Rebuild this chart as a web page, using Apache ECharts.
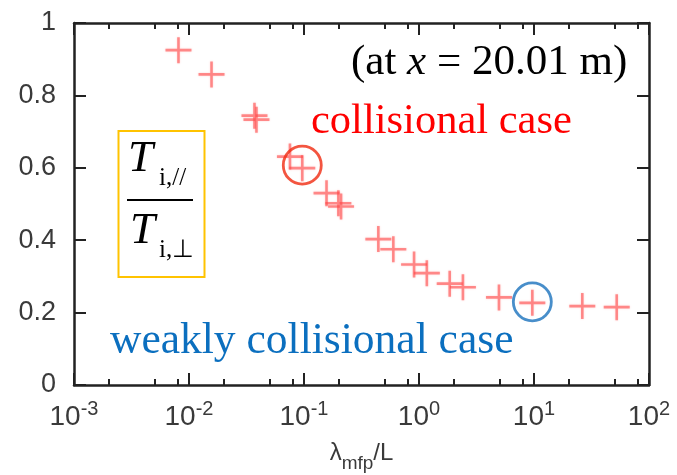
<!DOCTYPE html>
<html>
<head>
<meta charset="utf-8">
<script src="https://cdn.jsdelivr.net/npm/echarts@6/dist/echarts.min.js"></script>
<style>
  html, body { margin: 0; padding: 0; background: #fff; }
  #chart { width: 677px; height: 475px; }
</style>
</head>
<body>
<div id="chart"></div>
<script>
// Ion temperature anisotropy T_i,// / T_i,perp against normalised mean free path
const lambdaOverL = [0.0081, 0.0157, 0.0371, 0.0386, 0.0755, 0.0966, 0.157, 0.199, 0.21, 0.443, 0.598, 0.906, 1.17, 1.85, 2.41, 4.96, 9.67, 26.3, 52.4];
const tempRatio   = [0.925, 0.858, 0.744, 0.733, 0.631, 0.599, 0.530, 0.502, 0.493, 0.403, 0.375, 0.333, 0.309, 0.280, 0.270, 0.242, 0.227, 0.218, 0.215];

// highlighted runs
const collisionalIdx = 5;
const weakIdx = 16;

// axis ticks
const majorTicksX = [0.001, 0.01, 0.1, 1, 10, 100];
const minorTicksX = [0.002, 0.005, 0.008, 0.02, 0.05, 0.08, 0.2, 0.5, 0.8, 2, 5, 8, 20, 50, 80];
const yTicks = [0, 0.2, 0.4, 0.6, 0.8, 1];
const xExponents = { '0.001': '-3', '0.01': '-2', '0.1': '-1', '1': '0', '10': '1', '100': '2' };

const points = lambdaOverL.map((x, i) => [x, tempRatio[i]]);

const plusPath = 'path://M45,0h10v45h45v10h-45v45h-10v-45h-45v-10h45z';
const sans = 'Liberation Sans';
const serif = 'Liberation Serif';
const axisColor = '#222';
const labelColor = '#3a3a3a';

const chart = echarts.init(document.getElementById('chart'), null, { renderer: 'canvas' });

const baseX = {
  type: 'log', logBase: 10, min: 0.001, max: 100, gridIndex: 0,
  splitLine: { show: false }, minorTick: { show: false }
};

chart.setOption({
  animation: false,
  backgroundColor: '#fff',
  grid: { left: 74, right: 28, top: 23, bottom: 90, containLabel: false, outerBoundsMode: 'none' },
  xAxis: [
    Object.assign({}, baseX, {
      position: 'bottom',
      axisLine: { show: true, lineStyle: { color: axisColor, width: 2.5 } },
      axisTick: { show: true, inside: true, length: 12, lineStyle: { color: axisColor, width: 2 }, customValues: majorTicksX },
      axisLabel: {
        show: true, margin: 14, customValues: majorTicksX,
        formatter: v => '{b|10}{s|' + xExponents[String(+v.toPrecision(3))] + '}',
        rich: {
          b: { fontFamily: sans, fontSize: 28, color: labelColor },
          s: { fontFamily: sans, fontSize: 20, color: labelColor, padding: [0, 0, 16, 0] }
        }
      },
      name: '{l|λ}{m|mfp}{l|/L}',
      nameLocation: 'middle', nameGap: 49,
      nameTextStyle: {
        rich: {
          l: { fontFamily: sans, fontSize: 24, color: labelColor },
          m: { fontFamily: sans, fontSize: 19, color: labelColor, padding: [20, 0, 0, 0] }
        }
      }
    }),
    Object.assign({}, baseX, {
      position: 'bottom',
      axisLine: { show: false },
      axisTick: { show: true, inside: true, length: 6, lineStyle: { color: axisColor, width: 2 }, customValues: minorTicksX },
      axisLabel: { show: false }
    }),
    Object.assign({}, baseX, {
      position: 'top',
      axisLine: { show: true, lineStyle: { color: axisColor, width: 2.5 } },
      axisTick: { show: true, inside: true, length: 12, lineStyle: { color: axisColor, width: 2 }, customValues: majorTicksX },
      axisLabel: { show: false }
    }),
    Object.assign({}, baseX, {
      position: 'top',
      axisLine: { show: false },
      axisTick: { show: true, inside: true, length: 6, lineStyle: { color: axisColor, width: 2 }, customValues: minorTicksX },
      axisLabel: { show: false }
    })
  ],
  yAxis: [
    {
      type: 'value', min: 0, max: 1, interval: 0.2, position: 'left',
      splitLine: { show: false },
      axisLine: { show: true, lineStyle: { color: axisColor, width: 2.5 } },
      axisTick: { show: true, inside: true, length: 12, lineStyle: { color: axisColor, width: 2 } },
      axisLabel: {
        margin: 18, fontFamily: sans, fontSize: 27, color: labelColor,
        formatter: v => String(+v.toFixed(1))
      }
    },
    {
      type: 'value', min: 0, max: 1, interval: 0.2, position: 'right',
      splitLine: { show: false },
      axisLine: { show: true, lineStyle: { color: axisColor, width: 2.5 } },
      axisTick: { show: true, inside: true, length: 12, lineStyle: { color: axisColor, width: 2 } },
      axisLabel: { show: false }
    }
  ],
  series: [
    {
      type: 'scatter', xAxisIndex: 0, yAxisIndex: 0,
      data: points,
      symbol: plusPath, symbolSize: 26,
      itemStyle: { color: 'rgba(255, 70, 70, 0.7)', shadowColor: 'rgba(255, 90, 90, 0.5)', shadowBlur: 2 },
      silent: true, z: 3
    },
    {
      type: 'scatter', xAxisIndex: 0, yAxisIndex: 0,
      data: [points[collisionalIdx]],
      symbol: 'circle', symbolSize: 38, symbolOffset: [0, -3],
      itemStyle: { color: 'rgba(0,0,0,0)', borderColor: '#f02a10', borderWidth: 2.8 },
      silent: true, z: 4
    },
    {
      type: 'scatter', xAxisIndex: 0, yAxisIndex: 0,
      data: [points[weakIdx]],
      symbol: 'circle', symbolSize: 38, symbolOffset: [0, -1],
      itemStyle: { color: 'rgba(0,0,0,0)', borderColor: '#1a72bd', borderWidth: 2.8 },
      silent: true, z: 4
    }
  ],
  graphic: [
    {
      type: 'text', left: 351, top: 41, z: 10,
      style: {
        text: '{n|(at }{i|x}{n| = 20.01 m)}',
        rich: {
          n: { fontFamily: serif, fontSize: 43, fill: '#000' },
          i: { fontFamily: serif, fontSize: 43, fontStyle: 'italic', fill: '#000' }
        }
      }
    },
    {
      type: 'text', left: 311, top: 100, z: 10,
      style: { text: 'collisional case', font: '42.5px "Liberation Serif"', fill: '#ff0000' }
    },
    {
      type: 'text', left: 110, top: 320, z: 10,
      style: { text: 'weakly collisional case', font: '43.5px "Liberation Serif"', fill: '#0b6fbf' }
    },
    {
      type: 'rect', z: 10,
      shape: { x: 118.5, y: 131, width: 86, height: 146 },
      style: { fill: 'none', stroke: '#ffc300', lineWidth: 2 }
    },
    {
      type: 'line', z: 10,
      shape: { x1: 127, y1: 200, x2: 193, y2: 200 },
      style: { stroke: '#000', lineWidth: 2 }
    },
    {
      type: 'text', left: 128, top: 137, z: 10,
      style: { text: 'T', font: 'italic 45px "Liberation Serif"', fill: '#000' }
    },
    {
      type: 'text', left: 159, top: 166, z: 10,
      style: { text: 'i,//', font: '25px "Liberation Serif"', fill: '#000' }
    },
    {
      type: 'text', left: 130, top: 209, z: 10,
      style: { text: 'T', font: 'italic 45px "Liberation Serif"', fill: '#000' }
    },
    {
      type: 'text', left: 159, top: 238, z: 10,
      style: { text: 'i,⊥', font: '25px "Liberation Serif"', fill: '#000' }
    }
  ]
});
</script>
</body>
</html>
